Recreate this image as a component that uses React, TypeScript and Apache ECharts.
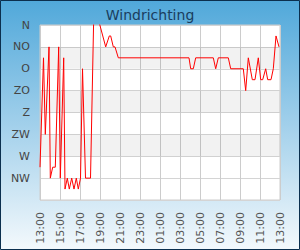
import React, { useEffect, useRef } from "react";
import * as echarts from "echarts";

// hours after 13:00 and wind direction level (0 = bottom, 8 = N)
const hours = [
  0, 0.35, 0.53, 0.9, 1.03, 1.27, 1.53, 1.87, 2.03, 2.37, 2.5, 2.73, 2.93, 3.17, 3.4, 3.63,
  3.83, 4.05, 4.25, 4.55, 5.05, 5.4, 6.57, 6.93, 7.07, 7.33, 7.5, 7.83, 14.9, 15.07,
  15.33, 15.57, 17.33, 17.57, 17.83, 18.83, 19.07, 20.33, 20.57, 20.83, 21.23, 21.5, 21.83,
  22.07, 22.27, 22.57, 22.77, 23.1, 23.33, 23.6, 23.9,
];
const levels = [
  1.5, 6.5, 3, 7, 1, 1.5, 1.5, 7, 1, 6.5, 0.5, 1, 0.5, 1, 0.5, 1,
  0.5, 1, 6, 1, 1, 9, 7, 7.5, 7.5, 7, 7, 6.5, 6.5, 6,
  6, 6.5, 6.5, 6, 6.5, 6.5, 6, 6, 5, 6.5, 5.5, 5.5, 6.5,
  5.5, 5.5, 6, 5.5, 5.5, 6, 7.5, 7,
];
const directionLabels = ["", "NW", "W", "ZW", "Z", "ZO", "O", "NO", "N"];
const startHour = 13;
const bandRanges = [
  [2, 3],
  [4, 5],
  [6, 7],
];

export default function App() {
  const ref = useRef<HTMLDivElement>(null);
  useEffect(() => {
    document.body.style.margin = "0";
    const chart = echarts.init(ref.current!, null, { renderer: "svg" });
    const font = "DejaVu Sans";
    chart.setOption({
      animation: false,
      backgroundColor: new echarts.graphic.LinearGradient(0, 0, 0, 1, [
        { offset: 0, color: "#50a8da" },
        { offset: 0.5, color: "#a2d0eb" },
        { offset: 1, color: "#f4f9fc" },
      ]),
      title: {
        text: "Windrichting",
        left: "center",
        top: 3,
        textStyle: { fontFamily: font, fontSize: 14, fontWeight: "normal", color: "#1a3d5e" },
      },
      graphic: [
        {
          type: "rect",
          shape: { x: 0.5, y: 0.5, width: 299, height: 249 },
          style: { fill: "none", stroke: "#0b2f4e", lineWidth: 1 },
          silent: true,
        },
      ],
      grid: {
        left: 40,
        top: 25,
        right: 20,
        bottom: 50,
        show: true,
        backgroundColor: "#ffffff",
        borderColor: "#cccccc",
        borderWidth: 1,
      },
      xAxis: {
        type: "value",
        min: 0,
        max: 24,
        interval: 2,
        axisLine: { show: false },
        axisTick: { show: false },
        splitLine: { show: true, lineStyle: { color: "#cccccc", width: 1 } },
        axisLabel: {
          rotate: 90,
          margin: 12,
          color: "#555555",
          fontFamily: font,
          fontSize: 11,
          formatter: (v: number) => String((startHour + v) % 24).padStart(2, "0") + ":00",
        },
      },
      yAxis: {
        type: "value",
        min: 0,
        max: 8,
        interval: 1,
        axisLine: { show: false },
        axisTick: { show: false },
        splitLine: { show: true, lineStyle: { color: "#d4d4d4", width: 1 } },
        axisLabel: {
          margin: 10,
          color: "#444444",
          fontFamily: font,
          fontSize: 11,
          formatter: (v: number) => directionLabels[Math.round(v)] ?? "",
        },
      },
      series: [
        {
          type: "line",
          data: [],
          z: 1,
          silent: true,
          markArea: {
            silent: true,
            itemStyle: { color: "rgba(0,0,0,0.05)" },
            data: bandRanges.map(([a, b]) => [{ yAxis: a }, { yAxis: b }]),
          },
        },
        {
          type: "line",
          z: 3,
          showSymbol: false,
          data: hours.map((h, i) => [h, levels[i]]),
          lineStyle: { color: "#ff0000", width: 1 },
          itemStyle: { color: "#ff0000" },
          clip: true,
        },
      ],
    });
    return () => chart.dispose();
  }, []);
  return (
    <div
      ref={ref}
      style={{ position: "fixed", left: 0, top: 0, width: 300, height: 250 }}
    />
  );
}
